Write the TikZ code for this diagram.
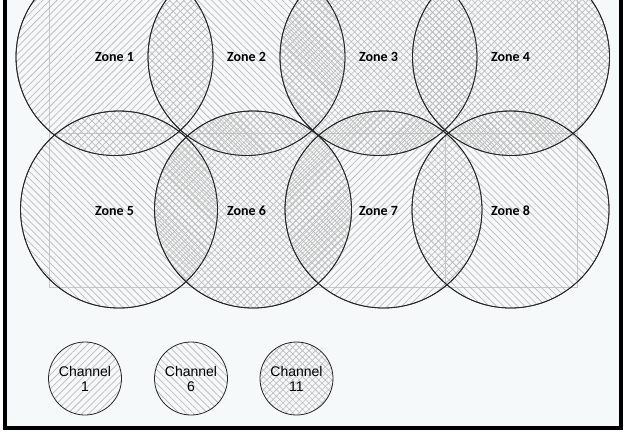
\documentclass[tikz,border=0pt]{standalone}
\usepackage{fontspec}
\setmainfont{Liberation Sans}
\newfontfamily\zonefont{Carlito}
\usetikzlibrary{patterns.meta}
\definecolor{bgc}{HTML}{F6F9F9}
\definecolor{hatchc}{HTML}{BDBDBD}
\definecolor{gridc}{HTML}{C8C8C8}
\tikzset{
  ring/.style={circle, draw=black!85, line width=0.8pt, inner sep=0pt},
  zone/.style={ring, minimum size=197pt},
  zonetext/.style={font=\zonefont\bfseries\fontsize{14}{16}\selectfont, inner sep=1pt},
  chan/.style={ring, minimum size=73pt, align=center, font=\fontsize{14}{15}\selectfont},
  chA/.style={pattern={Lines[angle=45,distance=5pt,line width=0.75pt]}, pattern color=hatchc},
  chB/.style={pattern={Lines[angle=-45,distance=5pt,line width=0.75pt]}, pattern color=hatchc},
  chC/.style={pattern={Hatch[angle=45,distance=4.6pt,line width=0.65pt]}, pattern color=hatchc},
  gridline/.style={draw=gridc, line width=0.6pt},
  frame/.style={draw=black, line width=4pt},
}
\begin{document}
\begin{tikzpicture}[x=1pt,y=-1pt]
\useasboundingbox (0,0) rectangle (628,432);
\clip (0,0) rectangle (628,432);
\fill[white] (0,0) rectangle (628,432);
\fill[bgc] (5,-10) rectangle (621,428);
% faint floor grid
\draw[gridline] (49,-10) -- (49,287) -- (577,287) -- (577,-10);
\draw[gridline] (49,133) -- (577,133);
\draw[gridline] (445,133) -- (445,287);
% zones
\node[zone, chA] (z1) at (114.5,57) {};
\node[zone, chB] (z2) at (246.5,57) {};
\node[zone, chC] (z3) at (378.5,57) {};
\node[zone, chC] (z4) at (511,57) {};
\node[zone, chB] (z5) at (119,209.5) {};
\node[zone, chC] (z6) at (253,209.5) {};
\node[zone, chA] (z7) at (383.5,209.5) {};
\node[zone, chB] (z8) at (510.5,209.5) {};
% redraw outlines on top of patterns
\foreach \n in {z1,z2,z3,z4,z5,z6,z7,z8}{
  \draw[black!85, line width=0.8pt] (\n.center) circle[radius=98.5pt];
}
% zone labels
\node[zonetext] (l1) at (114.5,57) {Zone 1};
\node[zonetext] (l2) at (246.5,57) {Zone 2};
\node[zonetext] (l3) at (378.5,57) {Zone 3};
\node[zonetext] (l4) at (510.5,57) {Zone 4};
\node[zonetext] (l5) at (114.5,211) {Zone 5};
\node[zonetext] (l6) at (246.5,211) {Zone 6};
\node[zonetext] (l7) at (378.5,211) {Zone 7};
\node[zonetext] (l8) at (510.5,211) {Zone 8};
% legend
\node[chan, chA] (c1) at (85,378.5) {Channel\\1};
\node[chan, chB] (c6) at (191,378.5) {Channel\\6};
\node[chan, chC] (c11) at (296.5,378.5) {Channel\\11};
% frame
\draw[frame] (5,-10) -- (5,428) -- (621,428) -- (621,-10);
\end{tikzpicture}
\end{document}
